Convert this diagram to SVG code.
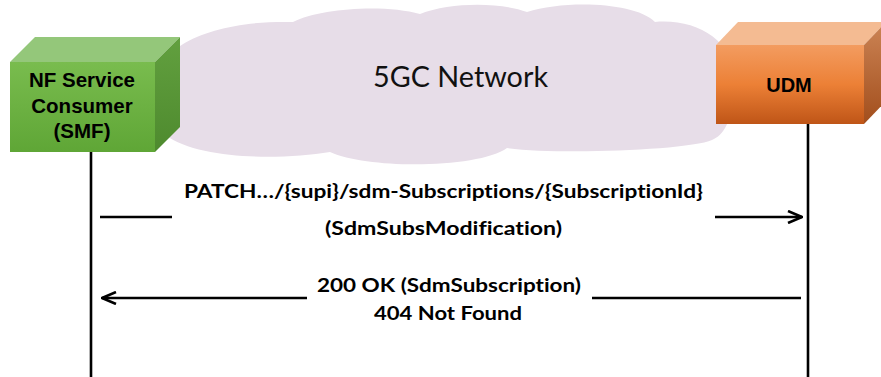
<svg xmlns="http://www.w3.org/2000/svg" width="881" height="377" viewBox="0 0 881 377">
<defs>
<style>
.cloud{fill:#E7DDE8}
.nodelabel{font-family:"Liberation Sans",Arial,sans-serif;font-weight:bold;font-size:20.5px;fill:#000}
.msg{font-family:Lato,"Open Sans",sans-serif;font-weight:bold;font-size:18.5px;fill:#000;font-variant-ligatures:none;font-feature-settings:"liga" 0,"clig" 0}
.net{font-family:Lato,"Open Sans",sans-serif;font-size:29px;fill:#111}
.life{stroke:#000;stroke-width:2.6;fill:none}
.arrow{stroke:#000;stroke-width:2.6;fill:none}
</style>
<linearGradient id="gFront" x1="0" y1="0" x2="0" y2="1">
<stop offset="0" stop-color="#79BC4E"/>
<stop offset="1" stop-color="#5FA636"/>
</linearGradient>
<linearGradient id="gSide" x1="0" y1="0" x2="0" y2="1">
<stop offset="0" stop-color="#62A03F"/>
<stop offset="1" stop-color="#4E8A2E"/>
</linearGradient>
<linearGradient id="oFront" x1="0" y1="0" x2="0" y2="1">
<stop offset="0" stop-color="#F39C60"/>
<stop offset="0.5" stop-color="#EC8036"/>
<stop offset="1" stop-color="#BF5517"/>
</linearGradient>
<linearGradient id="oSide" x1="0" y1="0" x2="0" y2="1">
<stop offset="0" stop-color="#CC8455"/>
<stop offset="1" stop-color="#A24E1C"/>
</linearGradient>
<marker id="head" viewBox="0 0 16 14" refX="15" refY="7" markerWidth="16" markerHeight="14" markerUnits="userSpaceOnUse" orient="auto-start-reverse">
<path d="M1,1 L15,7 L1,13" fill="none" stroke="#000" stroke-width="2.6"/>
</marker>
</defs>
<rect width="881" height="377" fill="#fff"/>

<g id="cloud">
<path class="cloud" d="M152,95 C150,45 215,20 293,22 C320,8 385,4 420,14 C450,2 500,2 527,12 C565,0 635,2 655,22 C700,18 740,45 732,85 C735,115 725,135 712,140 C690,150 560,155 507,148 C480,168 370,170 330,152 C280,160 200,160 165,135 C155,125 152,110 152,95 Z"/>
<text class="net" x="373" y="87" textLength="175" lengthAdjust="spacingAndGlyphs">5GC Network</text>
</g>

<g id="connectors">
<line class="life" x1="91" y1="152" x2="91" y2="377"/>
<line class="life" x1="808" y1="124" x2="808" y2="377"/>
<line class="arrow" x1="100" y1="217" x2="172" y2="217"/>
<line class="arrow" x1="715" y1="217" x2="802" y2="217" marker-end="url(#head)"/>
<line class="arrow" x1="801" y1="298" x2="592" y2="298"/>
<line class="arrow" x1="307" y1="298" x2="102" y2="298" marker-end="url(#head)"/>
<text class="msg" x="184" y="198" textLength="519" lengthAdjust="spacingAndGlyphs">PATCH…/{supi}/sdm-Subscriptions/{SubscriptionId}</text>
<text class="msg" x="325" y="235" textLength="237" lengthAdjust="spacingAndGlyphs">(SdmSubsModification)</text>
<text class="msg" x="317" y="292" textLength="264" lengthAdjust="spacingAndGlyphs">200 OK (SdmSubscription)</text>
<text class="msg" x="374" y="320" textLength="148" lengthAdjust="spacingAndGlyphs">404 Not Found</text>
</g>

<g id="smf">
<polygon points="10,62 35,37 180,37 155,62" fill="#94C77A"/>
<polygon points="155,62 180,37 180,127 155,152" fill="url(#gSide)"/>
<rect x="10" y="62" width="145" height="90" fill="url(#gFront)"/>
<text class="nodelabel" text-anchor="middle" x="82" y="87">NF Service</text>
<text class="nodelabel" text-anchor="middle" x="82" y="113">Consumer</text>
<text class="nodelabel" text-anchor="middle" x="82" y="138">(SMF)</text>
</g>

<g id="udm">
<polygon points="716,45 738,22 886,22 864,45" fill="#F4BB92"/>
<polygon points="864,45 886,22 886,101 864,124" fill="url(#oSide)"/>
<rect x="716" y="45" width="148" height="79" fill="url(#oFront)"/>
<text class="nodelabel" text-anchor="middle" x="789" y="92" style="font-size:20px">UDM</text>
</g>
</svg>
